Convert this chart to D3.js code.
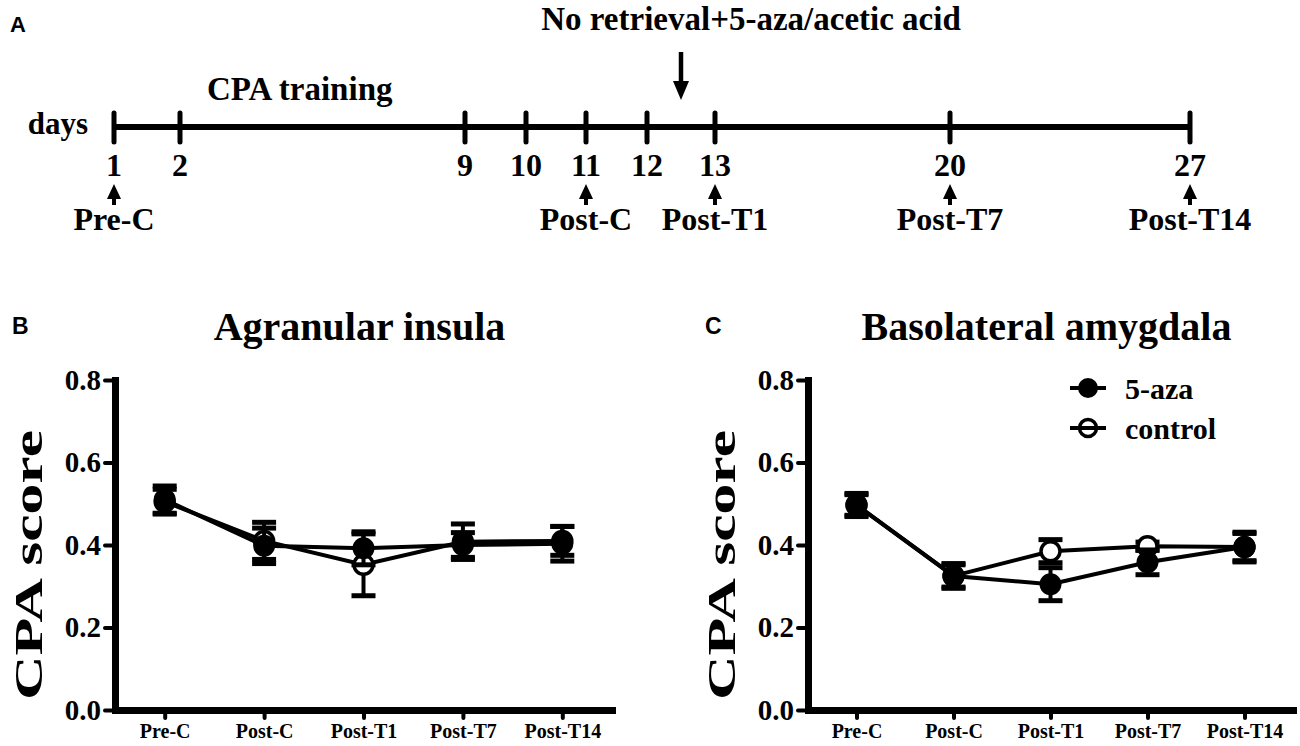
<!DOCTYPE html>
<html>
<head>
<meta charset="utf-8">
<script src="https://cdn.jsdelivr.net/npm/d3@7"></script>
<style>
  body { margin: 0; background: #fff; }
  svg { display: block; }
  text { font-family: "Liberation Serif", "Times New Roman", serif; font-weight: bold; fill: #000; }
  .panel-label { font-family: "Liberation Sans", Arial, sans-serif; }
</style>
</head>
<body>
<div id="chart"></div>
<script>
// timeline (panel A)
const days = [1, 2, 9, 10, 11, 12, 13, 20, 27];
const testDays = [1, 11, 13, 20, 27];
const phases = ["Pre-C", "Post-C", "Post-T1", "Post-T7", "Post-T14"];

// Agranular insula (panel B)
const aiAza = [0.510, 0.398, 0.392, 0.400, 0.403];
const aiAzaSem = [0.033, 0.043, 0.040, 0.030, 0.042];
const aiCtrl = [0.505, 0.410, 0.352, 0.408, 0.410];
const aiCtrlSem = [0.030, 0.045, 0.075, 0.043, 0.035];

// Basolateral amygdala (panel C)
const blaAza = [0.497, 0.325, 0.305, 0.358, 0.395];
const blaAzaSem = [0.028, 0.030, 0.040, 0.030, 0.036];
const blaCtrl = [0.497, 0.325, 0.385, 0.397, 0.395];
const blaCtrlSem = [0.025, 0.027, 0.028, 0.010, 0.033];

const yTicks = [0, 0.2, 0.4, 0.6, 0.8];
const seriesNames = ["5-aza", "control"];

const W = 1300, H = 746;
const svg = d3.select("#chart")
  .append("svg")
  .attr("width", W)
  .attr("height", H);

// ---------- panel A: timeline ----------
// days are not spaced evenly on the original, so use a piecewise scale
const tx = d3.scaleLinear()
  .domain(days)
  .range([114, 180, 465, 526, 586, 647, 715, 950, 1190]);
const lineY = 127;

svg.append("text").attr("class", "panel-label")
  .attr("x", 10).attr("y", 32).attr("font-size", 22).text("A");

svg.append("text")
  .attr("x", 88).attr("y", 134)
  .attr("text-anchor", "end")
  .attr("font-size", 31)
  .text("days");

svg.append("line")
  .attr("x1", tx(days[0])).attr("x2", tx(days[days.length - 1]))
  .attr("y1", lineY).attr("y2", lineY)
  .attr("stroke", "#000").attr("stroke-width", 6);

svg.append("g")
  .selectAll("line")
  .data(days)
  .join("line")
  .attr("x1", d => tx(d)).attr("x2", d => tx(d))
  .attr("y1", 113).attr("y2", 142)
  .attr("stroke", "#000").attr("stroke-width", 5)
  .attr("stroke-linecap", "round");

svg.append("g")
  .selectAll("text")
  .data(days)
  .join("text")
  .attr("x", d => tx(d))
  .attr("y", 176)
  .attr("text-anchor", "middle")
  .attr("font-size", 32)
  .text(d => d);

svg.append("text")
  .attr("x", 207).attr("y", 100)
  .attr("font-size", 33)
  .text("CPA training");

svg.append("text")
  .attr("x", 751).attr("y", 30)
  .attr("text-anchor", "middle")
  .attr("font-size", 33)
  .text("No retrieval+5-aza/acetic acid");

// down arrow for the treatment day
const arrowX = (tx(12) + tx(13)) / 2;
svg.append("line")
  .attr("x1", arrowX).attr("x2", arrowX)
  .attr("y1", 52).attr("y2", 84)
  .attr("stroke", "#000").attr("stroke-width", 4.5);
svg.append("path")
  .attr("d", `M${arrowX - 8},81L${arrowX + 8},81L${arrowX},100Z`)
  .attr("fill", "#000");

// up arrows + test labels
const tests = svg.append("g")
  .selectAll("g")
  .data(testDays)
  .join("g")
  .attr("transform", d => `translate(${tx(d)},0)`);

tests.append("path")
  .attr("d", "M-7,199L7,199L0,184Z")
  .attr("fill", "#000");
tests.append("line")
  .attr("y1", 196).attr("y2", 205)
  .attr("stroke", "#000").attr("stroke-width", 4);
tests.append("text")
  .attr("y", 230)
  .attr("text-anchor", "middle")
  .attr("font-size", 32)
  .text((d, i) => phases[i]);

// ---------- panels B and C ----------
const y = d3.scaleLinear().domain([0, 0.8]).range([710, 380]);

function drawPanel(opts) {
  const x = d3.scalePoint()
    .domain(phases)
    .range(opts.xRange)
    .padding(0.5);
  const left = opts.xRange[0];
  const g = svg.append("g");

  g.append("text").attr("class", "panel-label")
    .attr("x", opts.labelX).attr("y", 334)
    .attr("font-size", 23)
    .text(opts.label);

  g.append("text")
    .attr("x", (opts.xRange[0] + opts.xRange[1]) / 2 - 4)
    .attr("y", 340)
    .attr("text-anchor", "middle")
    .attr("font-size", 40)
    .text(opts.title);

  g.append("text")
    .attr("transform", `translate(${left - 87},565) rotate(-90)`)
    .attr("text-anchor", "middle")
    .attr("dy", "0.35em")
    .attr("font-size", 41)
    .attr("textLength", 270)
    .attr("lengthAdjust", "spacingAndGlyphs")
    .text("CPA score");

  // y axis
  const yAxis = g.append("g")
    .attr("transform", `translate(${left},0)`)
    .call(d3.axisLeft(y).tickValues(yTicks).tickFormat(d3.format(".1f"))
      .tickSize(10).tickSizeOuter(0).tickPadding(4));

  // x axis
  const xAxis = g.append("g")
    .attr("transform", `translate(0,${y(0)})`)
    .call(d3.axisBottom(x).tickSize(8).tickSizeOuter(0).tickPadding(6));

  [yAxis, xAxis].forEach(a => {
    a.select(".domain")
      .attr("stroke", "#000").attr("stroke-width", 7)
      .attr("stroke-linecap", "square");
    a.selectAll(".tick line")
      .attr("stroke", "#000").attr("stroke-width", 4)
      .attr("stroke-linecap", "round");
    a.selectAll(".tick text")
      .attr("fill", "#000")
      .style("font-family", '"Liberation Serif", "Times New Roman", serif')
      .style("font-weight", "bold");
  });
  yAxis.selectAll(".tick text").style("font-size", "29px");
  xAxis.selectAll(".tick text").style("font-size", "20px");

  const line = d3.line()
    .x((d, i) => x(phases[i]))
    .y(d => y(d));

  const series = [
    { vals: opts.ctrl, sem: opts.ctrlSem, filled: false },
    { vals: opts.aza, sem: opts.azaSem, filled: true }
  ];

  series.forEach(s => {
    const sg = g.append("g");
    sg.append("path")
      .datum(s.vals)
      .attr("d", line)
      .attr("fill", "none")
      .attr("stroke", "#000")
      .attr("stroke-width", 4);

    const pts = sg.selectAll("g.pt")
      .data(s.vals)
      .join("g")
      .attr("class", "pt")
      .attr("transform", (d, i) => `translate(${x(phases[i])},0)`);

    pts.append("line")
      .attr("y1", (d, i) => y(d - s.sem[i]))
      .attr("y2", (d, i) => y(d + s.sem[i]))
      .attr("stroke", "#000").attr("stroke-width", 4);
    pts.append("line")
      .attr("x1", -12).attr("x2", 12)
      .attr("y1", (d, i) => y(d + s.sem[i]))
      .attr("y2", (d, i) => y(d + s.sem[i]))
      .attr("stroke", "#000").attr("stroke-width", 5);
    pts.append("line")
      .attr("x1", -12).attr("x2", 12)
      .attr("y1", (d, i) => y(d - s.sem[i]))
      .attr("y2", (d, i) => y(d - s.sem[i]))
      .attr("stroke", "#000").attr("stroke-width", 5);

    pts.append("circle")
      .attr("cy", d => y(d))
      .attr("r", s.filled ? 11 : 9.5)
      .attr("fill", s.filled ? "#000" : "#fff")
      .attr("stroke", "#000")
      .attr("stroke-width", s.filled ? 0 : 3.5);
  });

  if (opts.legend) {
    const lg = g.append("g")
      .selectAll("g")
      .data(seriesNames)
      .join("g")
      .attr("transform", (d, i) => `translate(1088,${388 + i * 40})`);
    lg.append("line")
      .attr("x1", -18).attr("x2", 18)
      .attr("stroke", "#000").attr("stroke-width", 4);
    lg.append("circle")
      .attr("r", (d, i) => i === 0 ? 10 : 8.5)
      .attr("fill", (d, i) => i === 0 ? "#000" : "none")
      .attr("stroke", "#000")
      .attr("stroke-width", (d, i) => i === 0 ? 0 : 3.5);
    lg.append("text")
      .attr("x", 37)
      .attr("dy", "0.35em")
      .attr("font-size", 30)
      .text(d => d);
  }
}

drawPanel({
  label: "B", labelX: 12, title: "Agranular insula",
  xRange: [115, 612],
  aza: aiAza, azaSem: aiAzaSem, ctrl: aiCtrl, ctrlSem: aiCtrlSem,
  legend: false
});

drawPanel({
  label: "C", labelX: 705, title: "Basolateral amygdala",
  xRange: [808, 1293],
  aza: blaAza, azaSem: blaAzaSem, ctrl: blaCtrl, ctrlSem: blaCtrlSem,
  legend: true
});
</script>
</body>
</html>
